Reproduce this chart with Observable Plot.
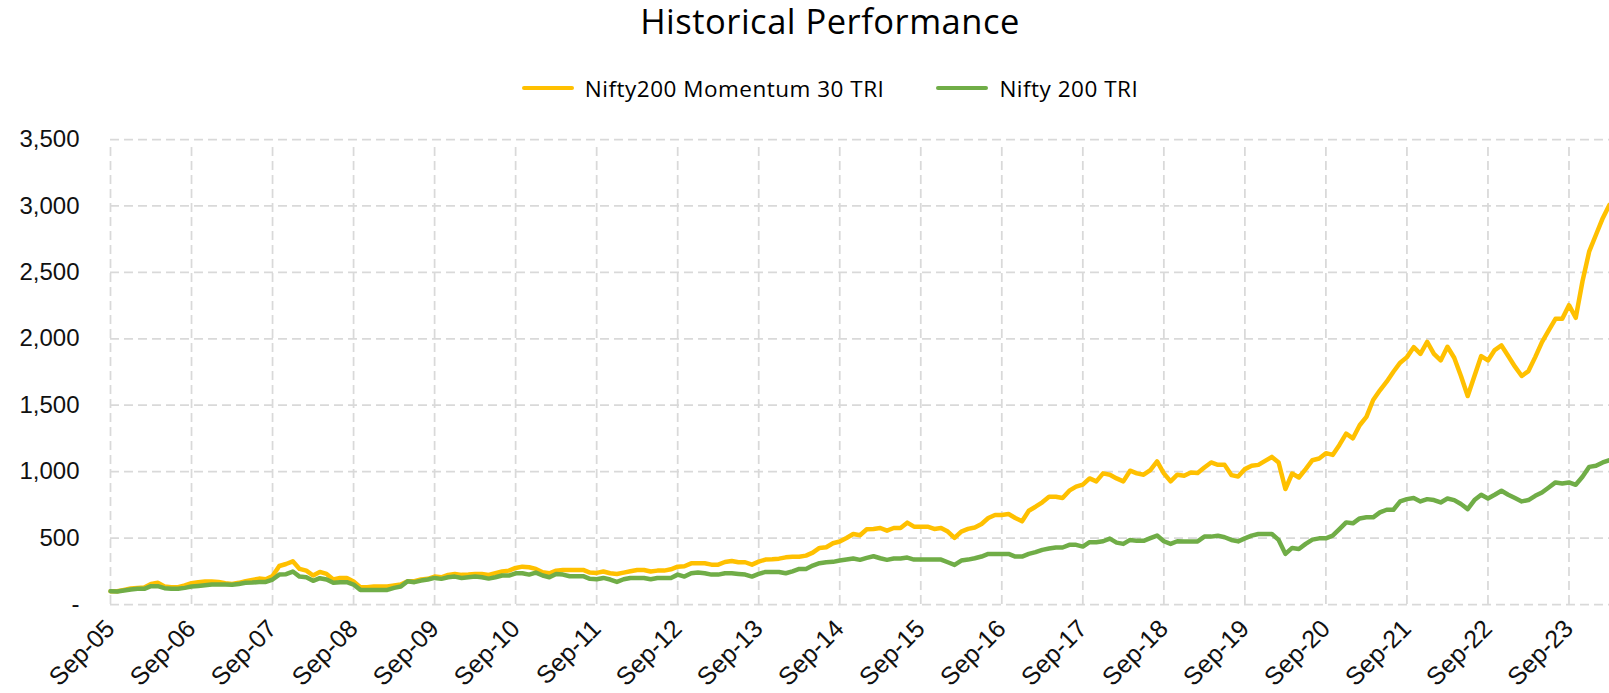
<!DOCTYPE html>
<html><head><meta charset="utf-8">
<script src="https://cdn.jsdelivr.net/npm/d3@7"></script>
<script src="https://cdn.jsdelivr.net/npm/@observablehq/plot@0.6"></script>
<style>
body{margin:0;background:#fff;}
#wrap{width:1609px;}
#title{box-sizing:border-box;width:1609px;height:40px;line-height:42px;padding-left:51px;text-align:center;font-family:"Open Sans";font-size:34.5px;letter-spacing:0.5px;color:#000;}
#legend{box-sizing:border-box;width:1609px;height:70px;padding-top:26px;padding-left:51px;display:flex;justify-content:center;align-items:center;font-family:"Open Sans";font-size:22.5px;letter-spacing:0.5px;color:#000;}
#legend .item{display:flex;align-items:center;height:44px;}
#legend .item + .item{margin-left:52px;}
#legend .sw{width:52px;height:4.5px;border-radius:2px;margin-right:11px;}
svg{display:block;}
</style></head>
<body>
<div id="wrap">
<div id="title">Historical Performance</div>
<div id="legend"></div>
<div id="chart"></div>
</div>
<script>
const seriesNames = ["Nifty200 Momentum 30 TRI", "Nifty 200 TRI"];
const seriesColors = ["#FFC000", "#70AD47"];
const tickLabels = ["Sep-05","Sep-06","Sep-07","Sep-08","Sep-09","Sep-10","Sep-11","Sep-12","Sep-13","Sep-14","Sep-15","Sep-16","Sep-17","Sep-18","Sep-19","Sep-20","Sep-21","Sep-22","Sep-23"];
const yTicks = [0, 500, 1000, 1500, 2000, 2500, 3000, 3500];

// Monthly values, Sep-05 .. Mar-24
const momentum30 = [
100,100,110,120,125,128,155,163,135,130,
130,143,160,168,173,173,170,160,155,163,
175,185,195,190,215,290,305,325,268,255,
218,245,230,188,200,200,173,130,130,135,
135,135,143,150,175,175,188,193,210,205,
223,230,223,225,230,230,223,235,248,255,
275,285,280,268,243,235,255,260,260,260,
260,240,238,248,235,230,240,250,260,260,
248,255,255,265,285,288,310,310,310,300,
300,320,328,318,318,300,323,338,340,345,
355,360,360,368,390,426,431,461,474,501,
531,521,566,569,576,556,576,576,616,586,
586,586,569,576,549,501,549,569,580,606,
651,674,674,681,651,626,706,736,769,811,
811,801,857,887,902,949,927,987,977,949,
927,1007,987,977,1012,1077,987,927,977,969,
994,989,1031,1069,1051,1051,974,964,1019,1044,
1051,1081,1111,1069,869,986,956,1019,1086,1099,
1139,1126,1201,1286,1251,1349,1412,1539,1612,1677,
1752,1820,1862,1937,1887,1977,1887,1837,1940,1857,
1720,1569,1720,1870,1837,1915,1950,1870,1790,1720,
1757,1862,1975,2063,2150,2150,2253,2158,2433,2658,
2783,2908,3009
];
const nifty200 = [
100,98,105,113,118,118,138,138,123,118,
118,125,135,140,145,150,150,150,148,155,
163,165,170,170,188,225,228,248,210,205,
178,198,188,163,168,168,150,110,110,110,
110,110,125,135,175,168,180,188,200,193,
205,210,200,205,210,205,195,205,218,218,
235,235,225,240,218,205,230,225,213,213,
213,193,190,200,188,170,190,200,200,200,
190,200,200,200,225,210,235,240,235,225,
225,235,235,230,225,210,230,245,245,245,
235,250,268,268,293,311,318,321,331,338,
346,336,351,363,348,336,346,346,353,338,
338,338,338,338,318,298,331,338,348,361,
381,381,381,381,361,361,381,394,411,421,
429,429,449,449,436,469,469,476,496,466,
456,486,479,479,499,519,476,456,476,475,
475,475,511,511,518,506,486,475,498,518,
531,531,531,486,381,426,418,456,488,498,
498,518,568,618,611,648,656,656,693,713,
713,776,793,801,776,793,786,768,798,786,
756,718,786,826,798,826,856,826,801,776,
786,818,843,881,919,911,919,901,961,1036,
1044,1069,1086
];

// legend
const legend = document.getElementById("legend");
seriesNames.forEach((n, i) => {
  const it = document.createElement("div"); it.className = "item";
  const sw = document.createElement("div"); sw.className = "sw"; sw.style.background = seriesColors[i];
  const tx = document.createElement("span"); tx.textContent = n;
  it.appendChild(sw); it.appendChild(tx); legend.appendChild(it);
});

const data = [];
momentum30.forEach((v, i) => data.push({month: i, value: v, series: seriesNames[0]}));
nifty200.forEach((v, i) => data.push({month: i, value: v, series: seriesNames[1]}));
const tickIdx = tickLabels.map((_, k) => k * 12);
const gridStyle = {stroke: "#d9d9d9", strokeOpacity: 1, strokeWidth: 1.75, strokeDasharray: "9,5"};

const chart = Plot.plot({
  width: 1609, height: 583,
  marginTop: 29, marginBottom: 89, marginLeft: 110, marginRight: 0,
  style: {fontFamily: "Liberation Sans", fontSize: "24px", color: "#111", background: "#fff"},
  x: {type: "linear", domain: [0, momentum30.length - 1]},
  y: {domain: [0, 3500]},
  color: {domain: seriesNames, range: seriesColors},
  marks: [
    Plot.ruleY(yTicks, {...gridStyle}),
    Plot.ruleX(tickIdx, {y1: 0, y2: 3500, insetBottom: -8, ...gridStyle}),
    Plot.axisY({ticks: yTicks, tickSize: 0, tickPadding: 31, tickFormat: d => d === 0 ? "-" : d3.format(",")(d), label: null, fontSize: 24}),
    Plot.axisX({ticks: tickIdx, tickSize: 0, tickPadding: 20, tickRotate: -45, tickFormat: i => tickLabels[Math.round(i / 12)], label: null, fontSize: 25}),
    Plot.line(data, {x: "month", y: "value", z: "series", stroke: "series", strokeWidth: 4.5, strokeLinejoin: "round", strokeLinecap: "round"})
  ]
});
document.getElementById("chart").appendChild(chart);
</script>
</body></html>
